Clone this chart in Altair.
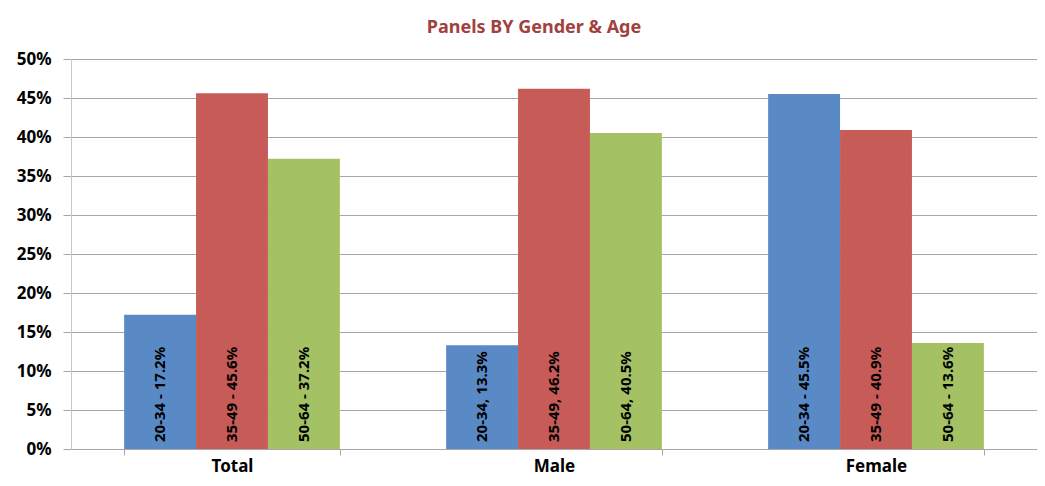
import altair as alt
import pandas as pd

groups = ["Total", "Male", "Female"]
ages = ["20-34", "35-49", "50-64"]
total_vals = [17.2, 45.6, 37.2]
male_vals = [13.3, 46.2, 40.5]
female_vals = [45.5, 40.9, 13.6]
total_labels = ["20-34 -  17.2%", "35-49 - 45.6%", "50-64 - 37.2%"]
male_labels = ["20-34, 13.3%", "35-49, 46.2%", "50-64, 40.5%"]
female_labels = ["20-34 -  45.5%", "35-49 - 40.9%", "50-64 - 13.6%"]
y_ticks = [0, 0.05, 0.10, 0.15, 0.20, 0.25, 0.30, 0.35, 0.40, 0.45, 0.50]
colors = ["#5A8AC6", "#C75B58", "#A4C263"]

rows = []
for g, vals, labs in zip(groups, [total_vals, male_vals, female_vals],
                         [total_labels, male_labels, female_labels]):
    for a, v, l in zip(ages, vals, labs):
        rows.append({"group": g, "age": a, "value": v / 100.0, "label": l})
df = pd.DataFrame(rows)

FONT = "Noto Sans"

x_axis = alt.Axis(labelAngle=0, labelFontSize=17, labelFontWeight="bold",
                  labelFont=FONT, labelColor="#000000", labelPadding=3,
                  tickBand="extent", tickSize=6, tickColor="#A6A6A6",
                  domainColor="#A6A6A6", grid=False)
x_scale = alt.Scale(paddingInner=0.33, paddingOuter=0.165)
y_scale = alt.Scale(domain=[0, 0.5], nice=False)
y_axis = alt.Axis(format=".0%", values=y_ticks, tickCount=30, labelOverlap=False,
                  labelFontSize=17, labelFontWeight="bold", labelFont=FONT,
                  labelColor="#000000", labelPadding=12, tickSize=8,
                  tickColor="#A6A6A6", domainColor="#C8C8C8",
                  gridColor="#A6A6A6", gridWidth=1)
xoff = alt.XOffset("age:N", sort=ages)

bars = alt.Chart(df).mark_bar().encode(
    x=alt.X("group:N", sort=groups, title=None, scale=x_scale, axis=x_axis),
    xOffset=xoff,
    y=alt.Y("value:Q", title=None, scale=y_scale, axis=y_axis),
    color=alt.Color("age:N", sort=ages, scale=alt.Scale(domain=ages, range=colors),
                    legend=None),
)

text = alt.Chart(df).mark_text(angle=270, align="left", baseline="middle", dx=7,
                               fontSize=15, fontWeight="bold", font=FONT,
                               color="#000000").encode(
    x=alt.X("group:N", sort=groups, title=None, scale=x_scale, axis=x_axis),
    xOffset=xoff,
    y=alt.YDatum(0, type="quantitative", title=None, scale=y_scale, axis=y_axis),
    text="label:N",
)

chart = alt.layer(bars, text).properties(
    width=966,
    height=390,
    autosize=alt.AutoSizeParams(type="none"),
    padding={"left": 63, "top": 51, "right": 0, "bottom": 29},
    title=alt.TitleParams("Panels BY Gender & Age", fontSize=18, font=FONT,
                          fontWeight="bold", color="#A0413E", offset=13,
                          anchor="middle", dx=-20),
).configure_view(stroke=None)

chart.save("out.html", embed_options={"renderer": "svg", "actions": False})
